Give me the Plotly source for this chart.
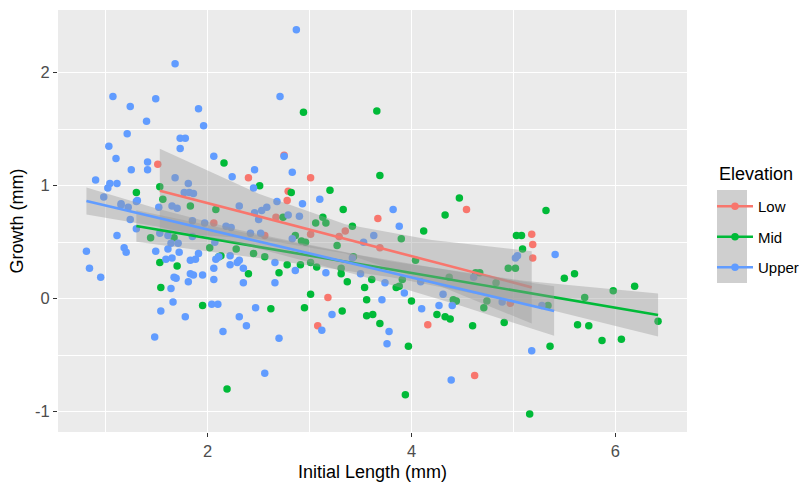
import plotly.graph_objects as go

# ---------------- data ----------------
groups = ["Low", "Mid", "Upper"]
colors = ["#F8766D", "#00BA38", "#619CFF"]
legend_title = "Elevation"

low_x = [2.75, 1.51, 2.40, 3.01, 2.79, 2.78, 3.67, 2.67, 4.54, 2.56, 3.01, 3.35, 3.29, 3.18,
         3.08, 3.69, 2.06, 4.16, 4.62, 5.18, 5.19, 5.19, 4.97]
low_y = [1.27, 1.19, 1.07, 1.07, 0.95, 0.87, 0.71, 0.72, 0.79, 0.56, 0.57, 0.60, 0.55, 0.01,
         -0.24, 0.45, 0.67, -0.23, -0.68, 0.57, 0.48, 0.36, -0.04]

mid_x = [2.94, 3.66, 2.16, 3.69, 2.51, 3.20, 2.82, 1.30, 1.53, 1.56, 1.83, 2.08, 3.33, 3.13,
         2.74, 4.47, 4.33, 5.32, 1.44, 1.53, 1.54, 1.70, 1.67, 1.95, 2.02, 2.11, 2.13, 2.19,
         2.28, 2.40, 2.45, 2.56, 2.62, 2.70, 2.78, 2.91, 2.86, 2.92, 2.96, 3.01, 3.07, 3.01,
         2.95, 3.06, 3.16, 3.27, 3.31, 3.37, 3.32, 3.42, 3.54, 3.56, 3.56, 3.62, 3.69, 3.61,
         3.43, 3.31, 3.90, 3.97, 3.94, 4.00, 4.04, 4.12, 4.25, 4.33, 4.38, 4.41, 4.44, 4.37,
         4.60, 4.67, 4.71, 4.74, 4.83, 4.91, 4.95, 5.02, 5.03, 5.08, 5.09, 5.16, 5.36, 5.34,
         5.50, 5.60, 5.63, 5.74, 5.70, 5.87, 5.98, 6.06, 6.19, 6.42, 3.85, 3.88, 3.91, 4.63]
mid_y = [1.65, 1.66, 1.20, 1.09, 1.00, 0.96, 0.94, 0.94, 0.99, 0.88, 0.82, 0.79, 0.79, 0.72,
         0.72, 0.89, 0.74, 0.78, 0.54, 0.32, 0.10, 0.29, 0.54, -0.06, 0.45, 0.37, 0.38, -0.80,
         0.44, 0.22, 0.40, 0.37, -0.09, 0.23, 0.30, 0.30, 0.56, 0.51, 0.50, 0.32, 0.28, 0.04,
         -0.08, 0.67, 0.67, 0.47, 0.22, 0.15, -0.11, 0.64, 0.10, -0.01, -0.15, -0.14, -0.22, 0.17,
         0.37, 0.27, 0.53, -0.42, -0.85, -0.02, 0.34, 0.60, -0.14, -0.16, -0.18, -0.01, -0.02, 0.19,
         -0.24, 0.23, -0.08, -0.02, 0.14, -0.21, 0.27, 0.27, 0.56, 0.56, 0.44, -1.02, -0.42, -0.06,
         0.18, 0.22, -0.23, -0.24, 0.01, -0.37, 0.07, -0.36, 0.11, -0.20, 0.10, 0.11, 0.17, 0.23]

upper_x = [2.87, 1.68, 1.07, 1.24, 1.49, 2.71, 1.40, 1.91, 1.96, 1.21, 1.03, 1.73, 1.78, 1.73,
           1.10, 2.06, 1.41, 1.25, 1.41, 0.90, 1.02, 1.04, 1.11, 1.68, 1.81, 2.24, 2.46, 2.83,
           2.75, 2.45, 2.68, 2.93, 3.10, 0.98, 1.31, 1.15, 1.77, 1.82, 1.86, 1.52, 1.65, 1.70,
           2.31, 2.58, 2.53, 2.46, 2.90, 0.81, 0.84, 0.95, 1.11, 1.18, 1.20, 1.15, 1.22, 1.30,
           1.24, 1.30, 1.49, 1.61, 1.64, 1.71, 1.72, 1.59, 1.65, 1.83, 1.88, 1.91, 1.67, 1.69,
           1.83, 1.86, 1.81, 1.64, 1.95, 2.06, 2.06, 2.08, 2.11, 2.22, 2.22, 2.29, 2.31, 2.35,
           2.35, 2.66, 2.66, 2.86, 1.66, 1.54, 1.78, 2.04, 2.10, 1.48, 2.15, 2.31, 2.38, 2.47,
           2.70, 2.56, 3.16, 3.22, 3.12, 3.71, 3.76, 3.78, 3.63, 3.74, 1.85, 1.61, 1.53, 2.23,
           2.18, 2.50, 2.42, 2.52, 2.79, 2.83, 3.53, 3.42, 2.07, 1.85, 1.97, 3.82, 3.88, 3.50,
           3.93, 4.10, 4.27, 4.40, 4.31, 4.39, 4.61, 4.89, 5.02, 5.04, 5.41, 5.18, 5.28, 4.09]
upper_y = [2.38, 2.08, 1.79, 1.70, 1.77, 1.79, 1.57, 1.68, 1.53, 1.46, 1.35, 1.42, 1.42, 1.33,
           1.24, 1.26, 1.21, 1.14, 1.14, 1.05, 0.98, 1.02, 1.02, 1.07, 1.02, 1.08, 1.14, 1.12,
           1.26, 0.98, 0.86, 0.84, 0.88, 0.90, 0.87, 0.84, 0.94, 0.94, 0.93, 0.81, 0.82, 0.80,
           0.82, 0.81, 0.78, 0.76, 0.73, 0.42, 0.27, 0.19, 0.56, 0.45, 0.41, 0.83, 0.81, 0.86,
           0.70, 0.62, 0.42, 0.44, 0.49, 0.49, 0.41, 0.35, 0.36, 0.34, 0.35, 0.40, 0.19, 0.18,
           0.22, 0.21, 0.15, 0.09, 0.21, 0.27, 0.17, 0.35, 0.37, 0.38, 0.30, 0.32, 0.34, 0.27,
           0.14, 0.32, 0.14, 0.25, -0.03, -0.11, -0.16, -0.05, -0.05, -0.34, -0.29, -0.16, -0.24, -0.08,
           -0.35, -0.66, 0.23, -0.14, -0.28, -0.01, -0.40, -0.29, 0.56, 0.14, 0.55, 0.56, 0.58, 0.63,
           0.64, 0.70, 0.58, 0.58, 0.74, 0.53, 0.50, 0.36, 0.50, 0.69, 0.67, 0.79, 0.64, 0.22,
           0.05, -0.09, -0.06, -0.06, 0.04, -0.72, 0.19, -0.03, 0.36, 0.38, 0.39, -0.46, -0.06, 0.15]

# fitted lines (lm) and 95% bands, read at a few positions
low_fit_x = [1.53, 2.50, 3.35, 4.20, 5.18]
low_fit_y = [0.956, 0.729, 0.529, 0.330, 0.100]
low_lo = [0.586, 0.529, 0.399, 0.140, -0.220]
low_hi = [1.326, 0.929, 0.659, 0.520, 0.420]

mid_fit_x = [1.30, 2.50, 3.80, 5.10, 6.42]
mid_fit_y = [0.643, 0.459, 0.259, 0.059, -0.144]
mid_lo = [0.503, 0.359, 0.189, -0.041, -0.334]
mid_hi = [0.783, 0.559, 0.329, 0.159, 0.046]

upper_fit_x = [0.81, 1.50, 2.30, 3.50, 4.50, 5.40]
upper_fit_y = [0.865, 0.719, 0.549, 0.294, 0.082, -0.109]
upper_lo = [0.745, 0.639, 0.489, 0.204, -0.068, -0.329]
upper_hi = [0.985, 0.799, 0.609, 0.384, 0.232, 0.111]

x_ticks = [2, 4, 6]
y_ticks = [-1, 0, 1, 2]

# ---------------- figure ----------------
FONT = "Liberation Sans, Arial, sans-serif"
fig = go.Figure()

pts = [(low_x, low_y), (mid_x, mid_y), (upper_x, upper_y)]
for (xs, ys), g, c in zip(pts, groups, colors):
    fig.add_trace(go.Scatter(x=xs, y=ys, mode="markers", name=g, legendgroup=g,
                             showlegend=False,
                             marker=dict(color=c, size=7.5, line=dict(width=0))))

fits = [(low_fit_x, low_fit_y, low_lo, low_hi),
        (mid_fit_x, mid_fit_y, mid_lo, mid_hi),
        (upper_fit_x, upper_fit_y, upper_lo, upper_hi)]
for (fx, fy, lo, hi), g, c in zip(fits, groups, colors):
    fig.add_trace(go.Scatter(x=fx + fx[::-1], y=hi + lo[::-1], fill="toself",
                             fillcolor="rgba(153,153,153,0.4)", line=dict(width=0),
                             mode="lines", hoverinfo="skip", showlegend=False,
                             legendgroup=g))
    fig.add_trace(go.Scatter(x=fx, y=fy, mode="lines", line=dict(color=c, width=2.6),
                             showlegend=False, legendgroup=g, name=g))

# legend keys
for g, c in zip(groups, colors):
    fig.add_trace(go.Scatter(x=[None], y=[None], mode="lines+markers", name=g,
                             legendgroup=g, showlegend=True,
                             line=dict(color=c, width=2.6),
                             marker=dict(color=c, size=7.5)))

W, H = 804, 482
# panel in pixels: x 58..687, y 10..432
P_L, P_R, P_T, P_B = 58, 687, 10, 432
pw, ph = P_R - P_L, P_B - P_T
def sx(p):
    return (p - P_L) / pw
def sy(p):
    return (P_B - p) / ph

# grey background behind legend keys (as ggplot draws for se bands)
fig.add_shape(type="rect", xref="paper", yref="paper",
              x0=sx(717), x1=sx(747), y0=sy(283), y1=sy(190),
              fillcolor="#CFCFCF", line=dict(width=0), layer="below")

# legend title
fig.add_annotation(text=legend_title, xref="paper", yref="paper", x=sx(717), y=sy(174),
                   xanchor="left", yanchor="middle", showarrow=False,
                   font=dict(family=FONT, size=18, color="black"))

axis_common = dict(
    showgrid=True, gridcolor="white", gridwidth=1.4,
    zeroline=False, showline=False, automargin=False,
    ticks="outside", ticklen=4, tickwidth=1, tickcolor="#333333",
    tickfont=dict(family=FONT, size=16.5, color="#4D4D4D"),
)

fig.update_layout(
    width=W, height=H,
    margin=dict(l=P_L, r=W - P_R, t=P_T, b=H - P_B, pad=0, autoexpand=False),
    paper_bgcolor="white", plot_bgcolor="#EBEBEB",
    font=dict(family=FONT, color="black"),
    xaxis=dict(range=[0.531, 6.704], tickvals=x_ticks, ticktext=[str(v) for v in x_ticks],
               minor=dict(tickvals=[1, 3, 5], showgrid=True, gridcolor="white",
                          gridwidth=0.7, ticks=""),
               title=dict(text="Initial Length (mm)", font=dict(family=FONT, size=18),
                          standoff=8),
               **axis_common),
    yaxis=dict(range=[-1.18, 2.555], tickvals=y_ticks, ticktext=[str(v) for v in y_ticks],
               minor=dict(tickvals=[-0.5, 0.5, 1.5], showgrid=True, gridcolor="white",
                          gridwidth=0.7, ticks=""),
               title=dict(text="Growth (mm)", font=dict(family=FONT, size=18), standoff=6),
               **axis_common),
    legend=dict(x=sx(712), y=sy(190), xanchor="left", yanchor="top",
                font=dict(family=FONT, size=15, color="black"),
                bgcolor="rgba(0,0,0,0)", traceorder="grouped", tracegroupgap=8,
                itemwidth=36),
    showlegend=True,
)

# remove the page's default body margin so the figure fills the window exactly
fig.write_html("out.html", config={"displayModeBar": False},
               post_script="document.body.style.margin='0';document.body.style.overflow='hidden';")
